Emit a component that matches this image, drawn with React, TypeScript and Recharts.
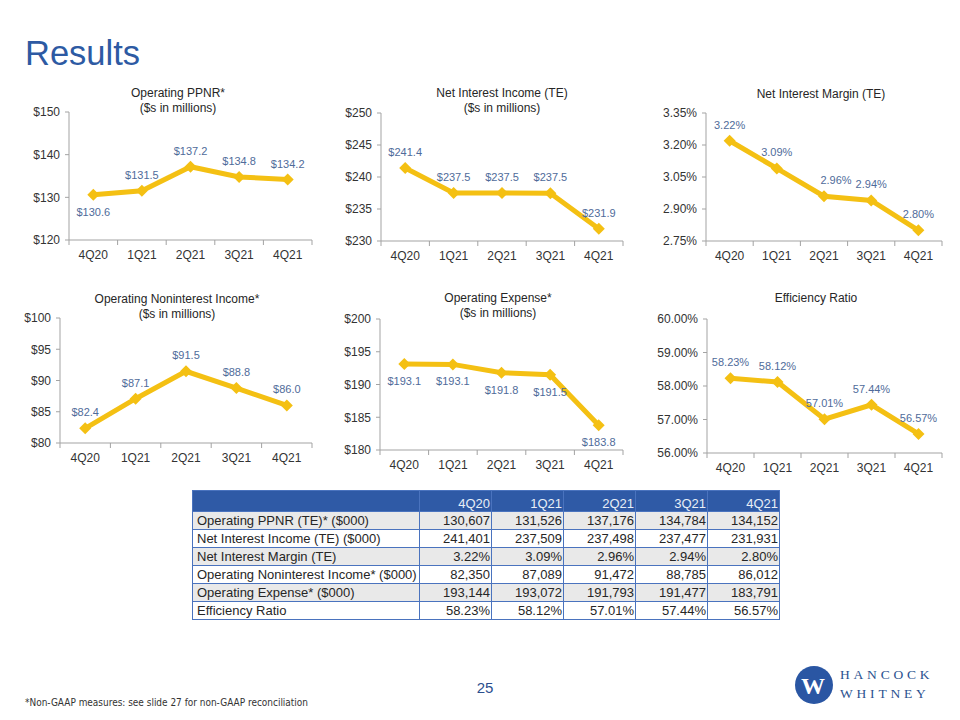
import React from "react";
import { LineChart, Line, XAxis, YAxis, LabelList } from "recharts";

const QUARTERS = ["4Q20", "1Q21", "2Q21", "3Q21", "4Q21"];

// Values in $000 (table) – charts show $ millions
const PPNR_K = [130607, 131526, 137176, 134784, 134152];
const NII_K = [241401, 237509, 237498, 237477, 231931];
const NIM_PCT = [3.22, 3.09, 2.96, 2.94, 2.8];
const NONINT_K = [82350, 87089, 91472, 88785, 86012];
const EXPENSE_K = [193144, 193072, 191793, 191477, 183791];
const EFF_PCT = [58.23, 58.12, 57.01, 57.44, 56.57];

const PPNR_TICKS = [120, 130, 140, 150];
const NII_TICKS = [230, 235, 240, 245, 250];
const NIM_TICKS = [2.75, 2.9, 3.05, 3.2, 3.35];
const NONINT_TICKS = [80, 85, 90, 95, 100];
const EXPENSE_TICKS = [180, 185, 190, 195, 200];
const EFF_TICKS = [56, 57, 58, 59, 60];

const TABLE_ROWS = [
  "Operating PPNR (TE)* ($000)",
  "Net Interest Income (TE) ($000)",
  "Net Interest Margin (TE)",
  "Operating Noninterest Income* ($000)",
  "Operating Expense* ($000)",
  "Efficiency Ratio",
];

const GOLD = "#F4C013";
const AXIS = "#A3A3A3";
const TICK_TEXT = "#333333";
const LABEL = "#4F6B9A";
const BLUE = "#2D5AA3";
const FONT = "'Liberation Sans', Arial, sans-serif";

const toM = (arr: number[]) => arr.map((v) => v / 1000);
const fmtK = (v: number) => v.toLocaleString("en-US");
const dollar = (v: number) => `$${(Math.round(v * 10 + 1e-6) / 10).toFixed(1)}`;
const dollarTick = (v: number) => `$${v}`;
const pct2 = (v: number) => `${v.toFixed(2)}%`;

function XTick(props: any) {
  const { x, y, payload, index, bw, count } = props;
  return (
    <g>
      <line x1={x - bw / 2} y1={y} x2={x - bw / 2} y2={y + 5} stroke={AXIS} />
      {index === count - 1 && (
        <line x1={x + bw / 2} y1={y} x2={x + bw / 2} y2={y + 5} stroke={AXIS} />
      )}
      <text x={x} y={y + 19} textAnchor="middle" fontSize={12} fill={TICK_TEXT} fontFamily={FONT}>
        {payload.value}
      </text>
    </g>
  );
}

type MiniProps = {
  axisX: number;
  top: number;
  right: number;
  bottom: number;
  values: number[];
  ticks: number[];
  tickFmt: (v: number) => string;
  labelFmt: (v: number) => string;
  labelPos: ("top" | "bottom")[];
  labelDx?: number[];
};

function MiniChart(p: MiniProps) {
  const PADL = 64;
  const PADT = 14;
  const PADR = 12;
  const PADB = 32;
  const w = p.right - p.axisX;
  const h = p.bottom - p.top;
  const bw = w / QUARTERS.length;
  const data = QUARTERS.map((q, i) => ({ q, v: p.values[i] }));

  const renderDiamond = (d: any) => {
    const { cx, cy, index } = d;
    const s = 6;
    return (
      <path
        key={`dm-${index}`}
        d={`M${cx},${cy - s}L${cx + s},${cy}L${cx},${cy + s}L${cx - s},${cy}Z`}
        fill={GOLD}
      />
    );
  };

  const renderLabel = (lp: any) => {
    const vb = lp.viewBox || {};
    const x = vb.x ?? lp.x;
    const y = vb.y ?? lp.y;
    let idx = lp.index;
    if (idx === undefined || idx === null) idx = p.values.indexOf(lp.value);
    const pos = p.labelPos[idx] || "top";
    const dx = p.labelDx ? p.labelDx[idx] || 0 : 0;
    return (
      <text
        key={`lb-${idx}`}
        x={x + dx}
        y={pos === "top" ? y - 16 : y + 17}
        textAnchor="middle"
        dominantBaseline="central"
        fontSize={11}
        fill={LABEL}
        fontFamily={FONT}
      >
        {p.labelFmt(lp.value)}
      </text>
    );
  };

  return (
    <div style={{ position: "absolute", left: p.axisX - PADL, top: p.top - PADT }}>
      <LineChart
        width={w + PADL + PADR}
        height={h + PADT + PADB}
        data={data}
        margin={{ top: PADT, right: PADR, left: 0, bottom: 0 }}
      >
        <XAxis
          dataKey="q"
          height={PADB}
          padding={{ left: bw / 2, right: bw / 2 }}
          tickLine={false}
          tickSize={0}
          tickMargin={0}
          axisLine={{ stroke: AXIS }}
          interval={0}
          tick={<XTick bw={bw} count={QUARTERS.length} />}
        />
        <YAxis
          width={PADL}
          domain={[p.ticks[0], p.ticks[p.ticks.length - 1]]}
          ticks={p.ticks}
          interval={0}
          tickFormatter={p.tickFmt}
          axisLine={{ stroke: AXIS }}
          tickLine={{ stroke: AXIS }}
          tickSize={4}
          tickMargin={5}
          tick={{ fontSize: 12, fill: TICK_TEXT, fontFamily: FONT }}
        />
        <Line
          dataKey="v"
          stroke={GOLD}
          strokeWidth={5}
          dot={renderDiamond}
          activeDot={false}
          isAnimationActive={false}
        >
          <LabelList dataKey="v" content={renderLabel} />
        </Line>
      </LineChart>
    </div>
  );
}

const tableValues: string[][] = [
  PPNR_K.map(fmtK),
  NII_K.map(fmtK),
  NIM_PCT.map(pct2),
  NONINT_K.map(fmtK),
  EXPENSE_K.map(fmtK),
  EFF_PCT.map(pct2),
];

function DataTable() {
  const border = "1px solid #4A73BE";
  return (
    <table
      style={{
        position: "absolute",
        left: 192,
        top: 490,
        width: 588,
        borderCollapse: "collapse",
        tableLayout: "fixed",
        fontFamily: FONT,
        fontSize: 13,
        color: "#262626",
      }}
    >
      <colgroup>
        <col style={{ width: 227 }} />
        {QUARTERS.map((q) => (
          <col key={q} style={{ width: 72 }} />
        ))}
      </colgroup>
      <thead>
        <tr style={{ height: 21, background: "#2F5AA6" }}>
          <th style={{ border, padding: 0 }} />
          {QUARTERS.map((q) => (
            <th
              key={q}
              style={{
                border,
                padding: "0 1px 0 0",
                textAlign: "right",
                fontWeight: "normal",
                color: "#E8EEF7",
                verticalAlign: "bottom",
              }}
            >
              {q}
            </th>
          ))}
        </tr>
      </thead>
      <tbody>
        {TABLE_ROWS.map((r, i) => (
          <tr key={r} style={{ height: 18, background: i % 2 === 0 ? "#E9E9E9" : "#FFFFFF" }}>
            <td style={{ border, padding: "0 0 0 4px", whiteSpace: "nowrap", lineHeight: "17px" }}>{r}</td>
            {tableValues[i].map((v, j) => (
              <td
                key={j}
                style={{ border, padding: "0 1px 0 0", textAlign: "right", lineHeight: "17px" }}
              >
                {v}
              </td>
            ))}
          </tr>
        ))}
      </tbody>
    </table>
  );
}

function Background() {
  const title = (x: number, y: number, lines: string[]) =>
    lines.map((l, i) => (
      <text key={l} x={x} y={y + i * 15} textAnchor="middle" fontSize={12} fill="#262626" fontFamily={FONT}>
        {l}
      </text>
    ));
  return (
    <svg width={960} height={720} style={{ position: "absolute", left: 0, top: 0 }}>
      <text x={25} y={65} fontSize={34.5} fill={BLUE} fontFamily={FONT}>
        Results
      </text>
      {title(178, 97, ["Operating PPNR*", "($s in millions)"])}
      {title(502, 97, ["Net Interest Income (TE)", "($s in millions)"])}
      {title(821, 98, ["Net Interest Margin (TE)"])}
      {title(177, 303, ["Operating Noninterest Income*", "($s in millions)"])}
      {title(498, 302, ["Operating Expense*", "($s in millions)"])}
      {title(816, 302, ["Efficiency Ratio"])}
      <text
        x={25}
        y={706}
        fontSize={11}
        fill="#333333"
        fontFamily="'Liberation Sans Narrow', 'DejaVu Sans Condensed', Arial, sans-serif"
        textLength={283}
        lengthAdjust="spacingAndGlyphs"
      >
        *Non-GAAP measures: see slide 27 for non-GAAP reconciliation
      </text>
      <text x={485} y={693} textAnchor="middle" fontSize={15} fill="#2B4F8E" fontFamily={FONT}>
        25
      </text>
      <circle cx={814} cy={685} r={19} fill="#2A56A3" />
      <text
        x={813}
        y={694}
        textAnchor="middle"
        fontSize={24}
        fontWeight="bold"
        fill="#FFFFFF"
        fontFamily="'Liberation Serif', 'DejaVu Serif', serif"
      >
        W
      </text>
      <text
        x={840}
        y={679}
        fontSize={13.5}
        letterSpacing={3.8}
        fill="#2B528F"
        fontFamily="'Liberation Serif', 'DejaVu Serif', serif"
      >
        HANCOCK
      </text>
      <text
        x={840}
        y={698}
        fontSize={13.5}
        letterSpacing={3.8}
        fill="#2B528F"
        fontFamily="'Liberation Serif', 'DejaVu Serif', serif"
      >
        WHITNEY
      </text>
    </svg>
  );
}

export default function App() {
  return (
    <div
      style={{
        position: "absolute",
        left: 0,
        top: 0,
        width: 960,
        height: 720,
        overflow: "hidden",
        background: "#FFFFFF",
        fontFamily: FONT,
      }}
    >
      <Background />
      <MiniChart
        axisX={69}
        top={112}
        right={312}
        bottom={240}
        values={toM(PPNR_K)}
        ticks={PPNR_TICKS}
        tickFmt={dollarTick}
        labelFmt={dollar}
        labelPos={["bottom", "top", "top", "top", "top"]}
      />
      <MiniChart
        axisX={381}
        top={113}
        right={623}
        bottom={241}
        values={toM(NII_K)}
        ticks={NII_TICKS}
        tickFmt={dollarTick}
        labelFmt={dollar}
        labelPos={["top", "top", "top", "top", "top"]}
      />
      <MiniChart
        axisX={706}
        top={113}
        right={942}
        bottom={241}
        values={NIM_PCT}
        ticks={NIM_TICKS}
        tickFmt={pct2}
        labelFmt={pct2}
        labelPos={["top", "top", "top", "top", "top"]}
        labelDx={[0, 0, 12, 0, 0]}
      />
      <MiniChart
        axisX={60}
        top={318}
        right={312}
        bottom={443}
        values={toM(NONINT_K)}
        ticks={NONINT_TICKS}
        tickFmt={dollarTick}
        labelFmt={dollar}
        labelPos={["top", "top", "top", "top", "top"]}
      />
      <MiniChart
        axisX={380}
        top={319}
        right={623}
        bottom={450}
        values={toM(EXPENSE_K)}
        ticks={EXPENSE_TICKS}
        tickFmt={dollarTick}
        labelFmt={dollar}
        labelPos={["bottom", "bottom", "bottom", "bottom", "bottom"]}
      />
      <MiniChart
        axisX={707}
        top={319}
        right={942}
        bottom={453}
        values={EFF_PCT}
        ticks={EFF_TICKS}
        tickFmt={pct2}
        labelFmt={pct2}
        labelPos={["top", "top", "top", "top", "top"]}
      />
      <DataTable />
    </div>
  );
}
